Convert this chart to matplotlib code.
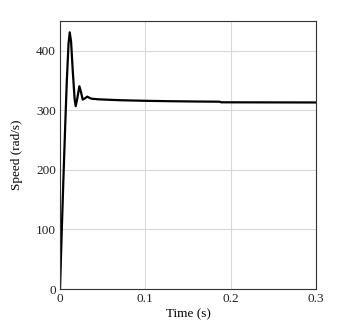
"""
Speed response of the drive: start-up overshoot then settling near 313 rad/s.
"""
import matplotlib
matplotlib.use("Agg")
import matplotlib.pyplot as plt
import numpy as np

# values
time_s = [0.0, 0.002, 0.004, 0.006, 0.008, 0.010, 0.0114, 0.013, 0.015,
          0.0172, 0.0184, 0.0205, 0.0227, 0.0247, 0.0266, 0.029, 0.032,
          0.0345, 0.037, 0.045, 0.053, 0.07, 0.1, 0.13, 0.16, 0.187,
          0.189, 0.22, 0.26, 0.3]
speed = [0.0, 95.0, 185.0, 270.0, 350.0, 412.0, 431.0, 415.0, 365.0,
         318.0, 307.0, 322.0, 340.5, 330.0, 318.0, 320.0, 323.0,
         321.0, 319.5, 318.5, 318.0, 317.0, 316.0, 315.3, 314.8, 314.5,
         313.5, 313.4, 313.3, 313.2]

xticks = [0, 0.1, 0.2, 0.3]
xticklabels = ["0", "0.1", "0.2", "0.3"]
yticks = [0, 100, 200, 300, 400]

plt.rcParams["font.family"] = ["Liberation Serif", "DejaVu Serif"]

fig = plt.figure(figsize=(3.47, 3.25), dpi=100)
ax = fig.add_axes([60 / 347, 36 / 325, 256 / 347, 268 / 325])

ax.plot(time_s, speed, color="black", linewidth=1.6)

ax.set_xlim(0, 0.3)
ax.set_ylim(0, 450)
ax.set_xticks(xticks)
ax.set_xticklabels(xticklabels)
ax.set_yticks(yticks)
ax.tick_params(length=0, labelsize=9.5, pad=3, labelcolor="#222222")
ax.grid(color="#d9d9d9", linewidth=0.8)
ax.set_axisbelow(True)
for s in ax.spines.values():
    s.set_linewidth(0.8)
    s.set_color("#333333")

ax.set_xlabel("Time (s)", fontsize=9.5, labelpad=2)
ax.set_ylabel("Speed (rad/s)", fontsize=9.5, labelpad=9)

fig.savefig("out.png", dpi=100)
plt.close(fig)
